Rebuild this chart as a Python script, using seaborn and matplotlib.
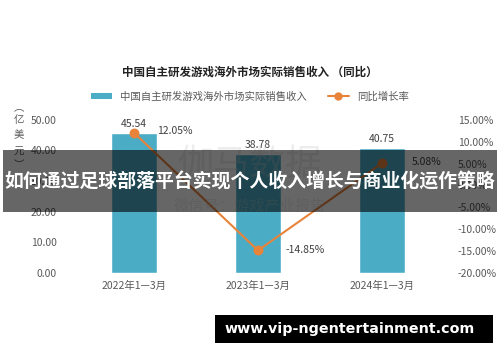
import matplotlib
matplotlib.use("Agg")
import matplotlib.pyplot as plt
import seaborn as sns
import pandas as pd
from matplotlib.patches import Patch, Rectangle
from matplotlib.lines import Line2D

# 数据
periods = ["2022年1—3月", "2023年1—3月", "2024年1—3月"]
revenue = [45.54, 38.78, 40.75]          # 亿美元
growth = [12.05, -14.85, 5.08]           # 同比 %

left_ticks = [0, 10, 20, 30, 40, 50]
right_ticks = [-20, -15, -10, -5, 0, 5, 10, 15]

bar_color = "#4BACC6"
line_color = "#E8843A"
text_gray = "#595959"

sns.set_theme(style="white")
plt.rcParams["font.family"] = ["Noto Sans CJK SC", "DejaVu Sans"]

df = pd.DataFrame({"period": periods, "revenue": revenue, "growth": growth})

fig = plt.figure(figsize=(5.0, 3.62), dpi=100)
ax = fig.add_axes([0.144, 0.246, 0.744, 0.423])

sns.barplot(data=df, x="period", y="revenue", color=bar_color, width=0.375,
            saturation=1, ax=ax)
ax.set_ylim(0, 50)
ax.set_xlim(-0.5, 2.5)
ax.set_yticks(left_ticks)
ax.set_yticklabels([f"{v:.2f}" for v in left_ticks])
ax.set_xlabel("")
ax.set_ylabel("")
ax.tick_params(axis="both", length=0, labelsize=7.5, colors=text_gray, pad=6)
ax.tick_params(axis="y", pad=11)
for s in ax.spines.values():
    s.set_visible(False)

for i, v in enumerate(revenue):
    ax.text(i, v + 1.5, f"{v:.2f}", ha="center", va="bottom", fontsize=7.5, color="#404040")

ax2 = ax.twinx()
sns.pointplot(data=df, x="period", y="growth", color=line_color, ax=ax2,
              markers="o", markersize=6, linewidth=1.5, errorbar=None)
ax2.set_ylim(-20, 15)
ax2.set_xlim(-0.5, 2.5)
ax2.set_yticks(right_ticks)
ax2.set_yticklabels([f"{v:.2f}%" for v in right_ticks])
ax2.set_xlabel("")
ax2.set_ylabel("")
ax2.tick_params(axis="y", length=0, labelsize=7.5, colors=text_gray, pad=10)
for s in ax2.spines.values():
    s.set_visible(False)

offsets = [(0.19, 0.4), (0.22, 0.0), (0.24, 0.3)]
for i, v in enumerate(growth):
    dx, dy = offsets[i]
    ax2.text(i + dx, v + dy, f"{v:.2f}%", ha="left", va="center", fontsize=7.5, color="#404040")

# 水印
fig.text(0.50, 0.545, "伽马数据", ha="center", va="center", fontsize=26, color="#cccccc", alpha=0.35)
fig.text(0.50, 0.43, "微信号：游戏产业报告", ha="center", va="center", fontsize=11, color="#cccccc", alpha=0.35)

# 标题与图例
fig.text(0.50, 0.80, "中国自主研发游戏海外市场实际销售收入 （同比）", ha="center", va="center",
         fontsize=8.3, fontweight="bold", color="#222222")
handles = [Patch(facecolor=bar_color, edgecolor="none"),
           Line2D([0], [0], color=line_color, marker="o", markersize=5, linewidth=1.5)]
fig.legend(handles, ["中国自主研发游戏海外市场实际销售收入", "同比增长率"], loc="center",
           bbox_to_anchor=(0.50, 0.733), ncol=2, frameon=False, fontsize=7.5,
           handlelength=2.0, handleheight=0.5, columnspacing=2.0, labelcolor=text_gray)

# 纵轴单位（竖排）
unit_chars = ["︵", "亿", "美", "元", "︶"]
unit_y = [0.700, 0.668, 0.627, 0.580, 0.545]
for ch, yy in zip(unit_chars, unit_y):
    fig.text(0.037, yy, ch, ha="center", va="center", fontsize=7.5, color=text_gray)

# 横幅
fig.patches.append(Rectangle((0.006, 0.414), 0.988, 0.172, transform=fig.transFigure,
                             facecolor="black", alpha=0.6, edgecolor="none", zorder=10))
fig.text(0.50, 0.497, "如何通过足球部落平台实现个人收入增长与商业化运作策略", ha="center", va="center",
         fontsize=13.6, fontweight="bold", color="white", zorder=11)

fig.patches.append(Rectangle((0.43, 0.052), 0.556, 0.078, transform=fig.transFigure,
                             facecolor="black", edgecolor="none", zorder=10))
fig.text(0.70, 0.091, "www.vip-ngentertainment.com", ha="center", va="center",
         fontsize=10.3, fontweight="bold", color="white", family="DejaVu Sans", zorder=11)

fig.savefig("out.png", dpi=100)
